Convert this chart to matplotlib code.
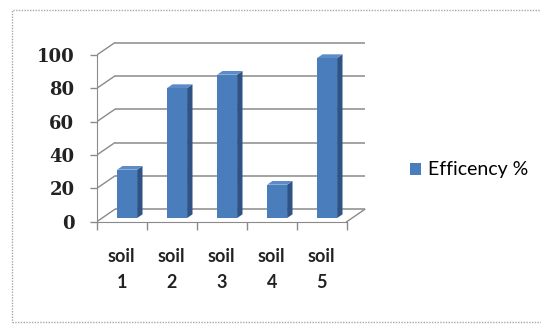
import matplotlib
matplotlib.use("Agg")
import matplotlib.pyplot as plt
from matplotlib.patches import Polygon, Rectangle, Patch

# Data
categories = ["soil\n1", "soil\n2", "soil\n3", "soil\n4", "soil\n5"]
efficiency = [29, 78, 86, 20, 96]
y_ticks = [0, 20, 40, 60, 80, 100]
series_name = "Efficency %"

W, H = 541, 324
fig = plt.figure(figsize=(W / 100, H / 100), dpi=100)

# Outer chart border
fig.patches.append(Rectangle((12 / W, 2 / H), 1.2, (H - 12) / H,
                             transform=fig.transFigure, fill=False,
                             edgecolor="#a8a8a8", linewidth=1.0,
                             linestyle=(0, (1, 1))))

# Axes: x in category units (front floor 0..5), y in value units
ax = fig.add_axes([96.7 / W, (H - 238.4) / H, 280 / W, 200 / H])
ax.set_xlim(0, 5.6)
ax.set_ylim(-10, 110)
ax.patch.set_visible(False)

# Depth of the 3-D box (category units, value units)
DX, DY = 0.36, 7.4
grid_c = "#8a8a8a"
n = len(categories)

# Back wall gridlines and side-wall diagonals
for v in y_ticks:
    ax.plot([DX, n + DX], [v + DY, v + DY], color=grid_c, lw=1.1,
            solid_capstyle="butt", zorder=1)
    ax.plot([0, DX], [v, v + DY], color=grid_c, lw=1.0, zorder=1)
# Floor right edge
ax.plot([n, n + DX], [0, DY], color=grid_c, lw=1.0, zorder=1)

# Bars
front_c, side_c, top_c = "#4a7dbb", "#2e5384", "#5b8bc8"
w = 0.4
t0, t1 = 0.3, 0.6
for i, v in enumerate(efficiency):
    c = i + 0.5
    xl0 = c - w / 2 + t0 * DX
    xr0 = c + w / 2 + t0 * DX
    xl1 = xl0 + (t1 - t0) * DX
    xr1 = xr0 + (t1 - t0) * DX
    y0 = t0 * DY
    y1 = t1 * DY
    ax.add_patch(Polygon([(xr0, y0), (xr0, v + y0), (xr1, v + y1), (xr1, y1)],
                         closed=True, facecolor=side_c, edgecolor="none",
                         zorder=3))
    ax.add_patch(Polygon([(xl0, v + y0), (xr0, v + y0), (xr1, v + y1),
                          (xl1, v + y1)], closed=True, facecolor=top_c,
                         edgecolor="none", zorder=3))
    ax.add_patch(Rectangle((xl0, y0), w, v, facecolor=front_c,
                           edgecolor="none", zorder=4))

# Spines
for s in ("top", "right"):
    ax.spines[s].set_visible(False)
ax.spines["left"].set_bounds(0, 100)
ax.spines["left"].set_color(grid_c)
ax.spines["left"].set_zorder(2)
ax.spines["bottom"].set_position(("data", 0))
ax.spines["bottom"].set_bounds(0, n)
ax.spines["bottom"].set_color(grid_c)

# Y axis ticks
ax.set_yticks(y_ticks)
ax.set_yticklabels([str(t) for t in y_ticks],
                   fontdict={"family": "DejaVu Serif", "weight": "bold",
                             "size": 13, "color": "#222222"})
ax.tick_params(axis="y", direction="out", length=5, width=1, color=grid_c,
               pad=11)

# X axis ticks: boundaries as minor ticks, category labels as major
ax.set_xticks(range(n + 1), minor=True)
ax.set_xticks([i + 0.5 for i in range(n)])
ax.set_xticklabels(categories, fontdict={"family": "Lato", "weight": "bold",
                                         "size": 13, "color": "#222222"},
                   linespacing=1.6)
ax.tick_params(axis="x", which="major", length=0, pad=19)
ax.tick_params(axis="x", which="minor", direction="out", length=6, width=1,
               color=grid_c)

# Legend
leg = fig.legend(handles=[Patch(facecolor=front_c, edgecolor="none",
                                label=series_name)],
                 loc="center left", bbox_to_anchor=(410 / W, (H - 170) / H),
                 frameon=False, borderpad=0, borderaxespad=0,
                 handlelength=0.58, handleheight=0.58, handletextpad=0.33,
                 prop={"family": "Lato", "size": 14})

fig.savefig("out.png", dpi=100, facecolor="white")
